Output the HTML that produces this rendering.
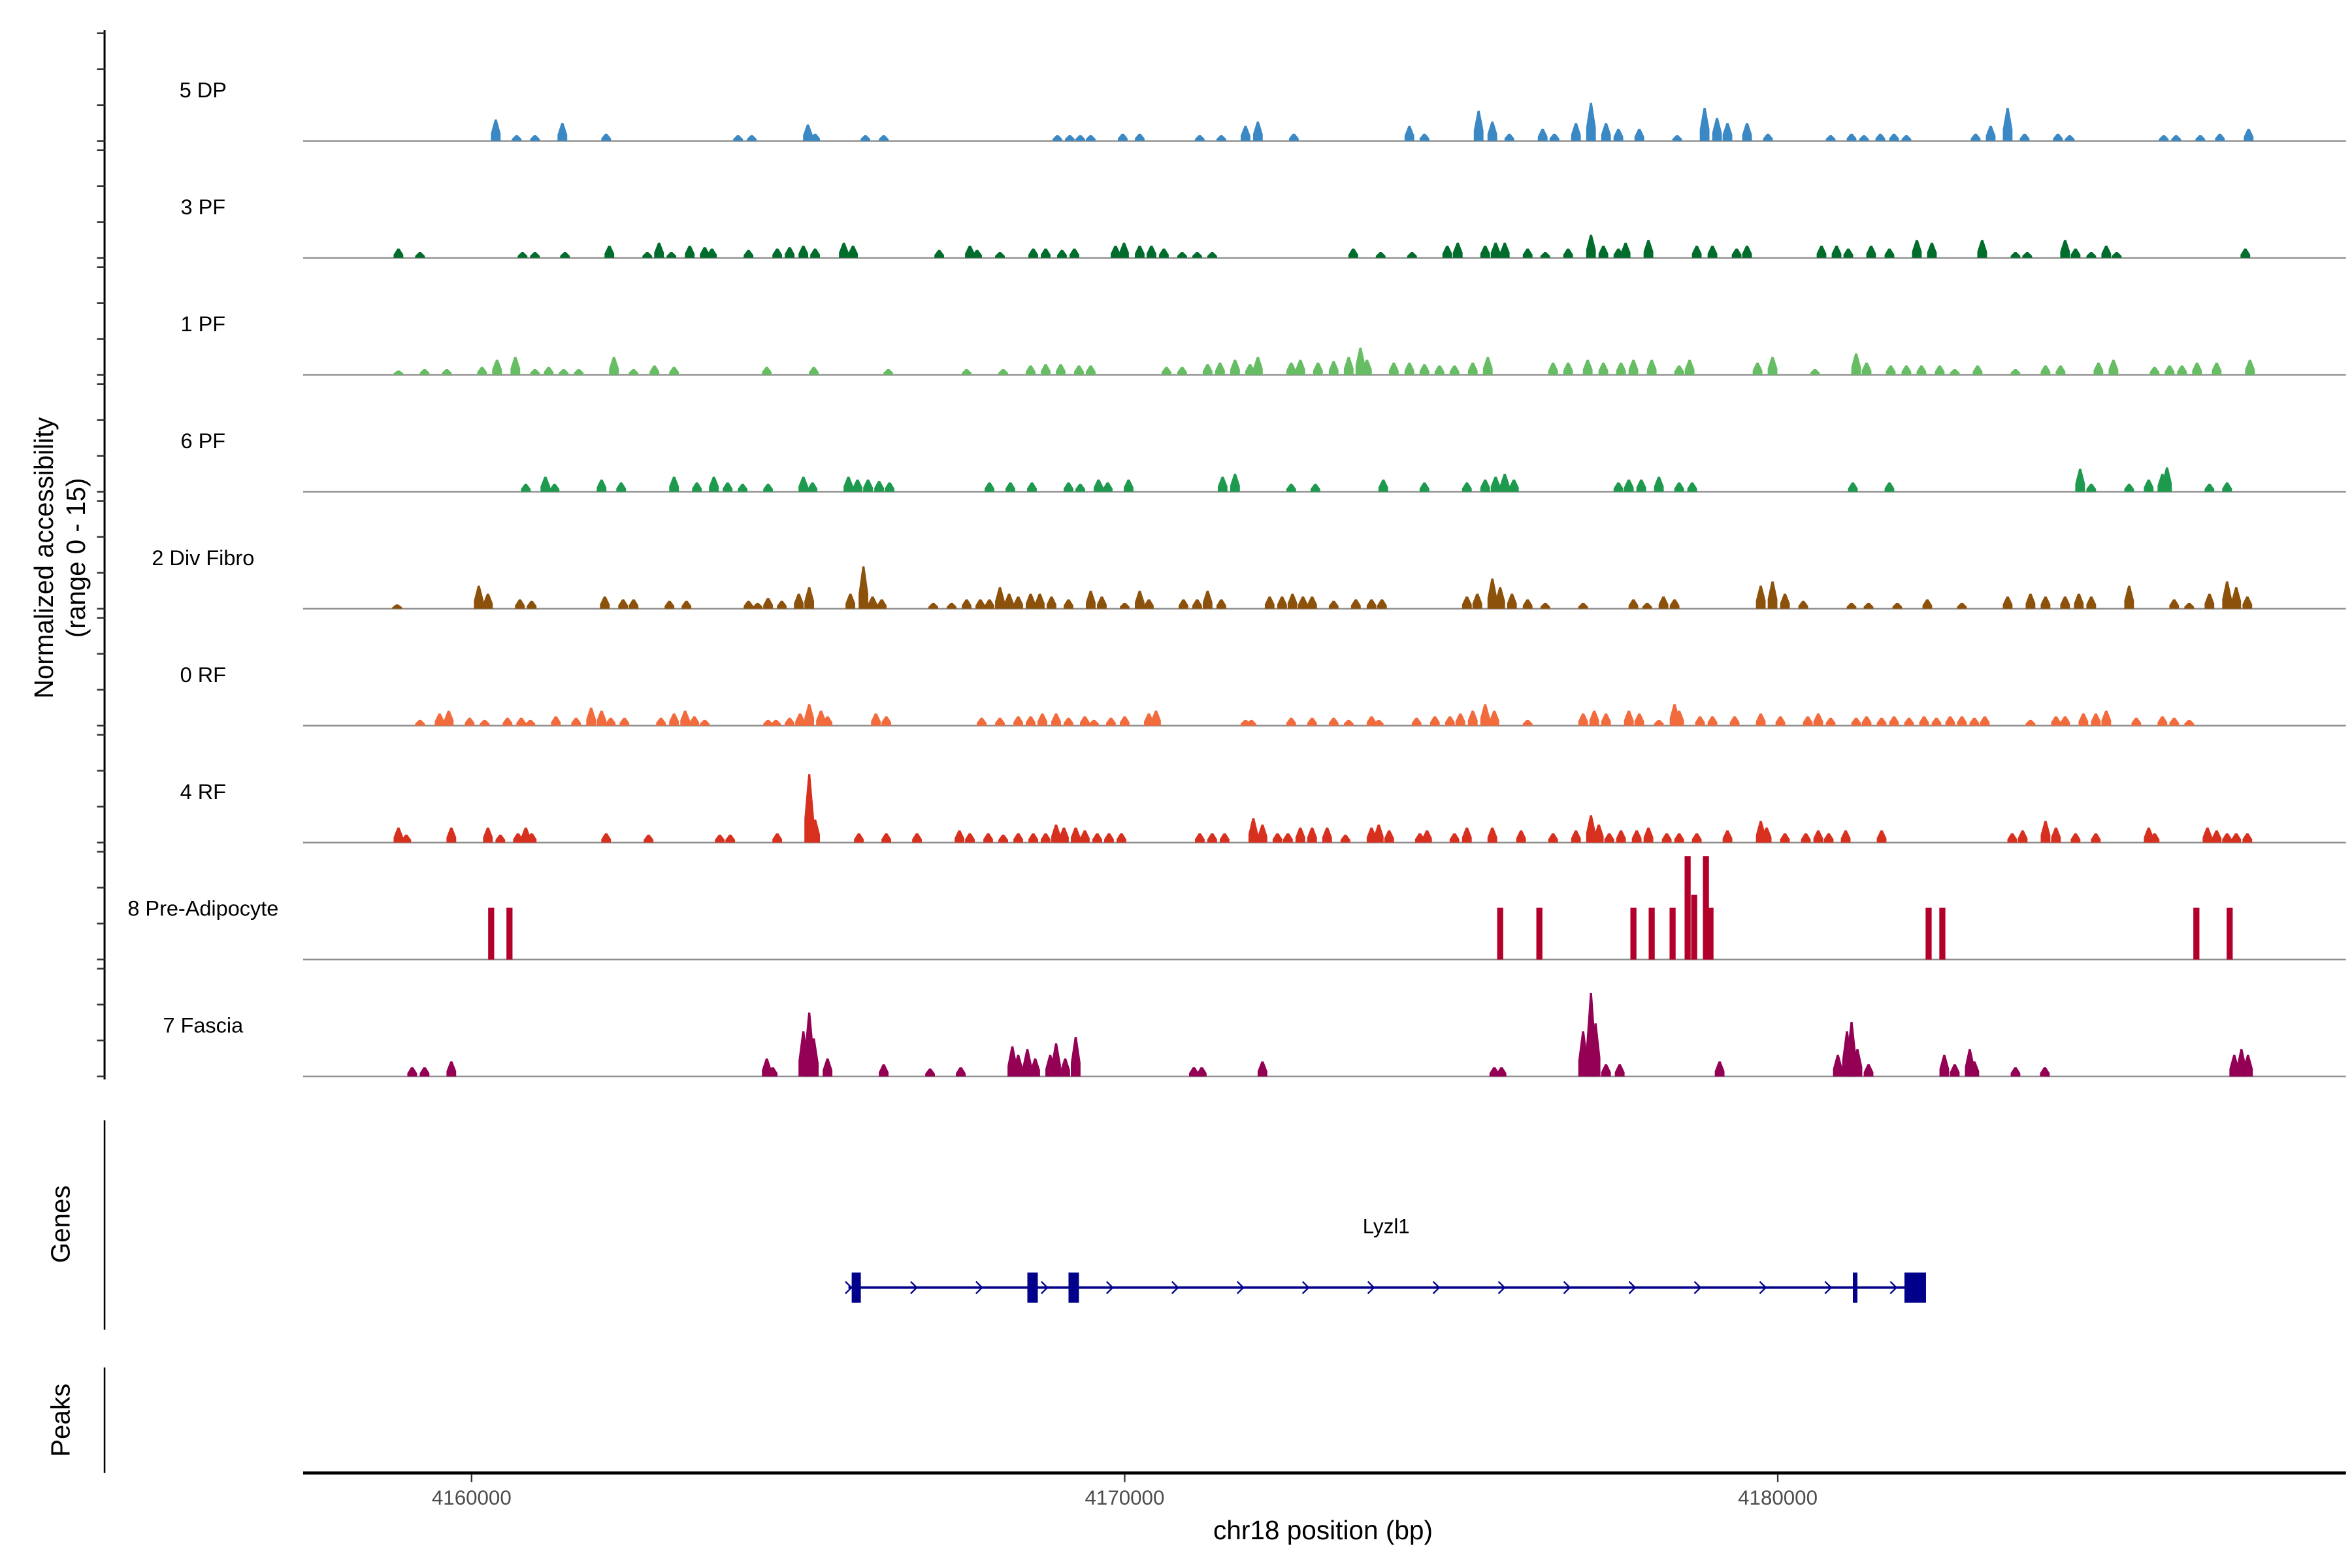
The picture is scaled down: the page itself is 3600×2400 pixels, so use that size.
<!DOCTYPE html>
<html><head><meta charset="utf-8">
<style>
html,body{margin:0;padding:0;background:#fff;}
svg{display:block;font-family:"Liberation Sans",Arial,sans-serif;}
</style></head>
<body>
<svg id="chart" width="3600" height="2400" viewBox="0 0 1552 1040" preserveAspectRatio="none" xmlns="http://www.w3.org/2000/svg">
  <g id="tracks"></g>
  <line x1="69" y1="20" x2="69" y2="716" stroke="#000" stroke-width="1.3"/>
  <g id="yticks"></g>
  <text transform="translate(35,370) rotate(-90)" text-anchor="middle" font-size="17.5">Normalized accessibility</text>
  <text transform="translate(56,370) rotate(-90)" text-anchor="middle" font-size="17.5">(range 0 - 15)</text>
  <line x1="69" y1="743" x2="69" y2="882" stroke="#000" stroke-width="1.1"/>
  <text transform="translate(46,812) rotate(-90)" text-anchor="middle" font-size="17.5">Genes</text>
  <line x1="69" y1="907" x2="69" y2="977" stroke="#000" stroke-width="1.1"/>
  <text transform="translate(46,942) rotate(-90)" text-anchor="middle" font-size="17.5">Peaks</text>
  <g id="gene"></g>
  <line x1="200" y1="977" x2="1548" y2="977" stroke="#000" stroke-width="2"/>
  <g id="xticks"></g>
  <text x="873" y="1021" text-anchor="middle" font-size="17.5">chr18 position (bp)</text>
</svg>
<script>
// ---- data (positions in kb relative to 4,100,000 bp; heights in normalized accessibility) ----
const trackNames = ["5 DP","3 PF","1 PF","6 PF","2 Div Fibro","0 RF","4 RF","8 Pre-Adipocyte","7 Fascia"];
const trackColors = ["#3A88C4","#006D2C","#66BD63","#1E9A4E","#8C510A","#F26B3D","#D7301F","#B2002B","#930054"];
const pos5DP = [60.37,60.69,60.97,61.39,62.06,64.08,64.29,65.15,65.26,66.03,66.31,68.97,69.16,69.32,69.48,69.97,70.23,71.15,71.48,71.85,72.04,72.59,74.36,74.59,75.42,75.63,75.89,76.40,76.58,76.91,77.14,77.37,77.56,77.88,78.46,78.88,79.07,79.23,79.53,79.85,80.81,81.13,81.32,81.57,81.78,81.97,83.03,83.26,83.52,83.78,84.29,84.47,85.91,86.10,86.47,86.77,87.21];
const val5DP = [3.0,0.8,0.8,2.5,1.0,0.8,0.8,2.3,1.0,0.8,0.8,0.8,0.8,0.8,0.8,1.0,1.0,0.8,0.8,2.1,2.7,1.0,2.1,1.0,4.2,2.7,1.0,1.7,1.0,2.5,5.3,2.5,1.7,1.7,0.8,4.6,3.2,2.5,2.5,1.0,0.8,1.0,0.8,1.0,1.0,0.8,1.0,2.1,4.6,1.0,1.0,0.8,0.8,0.8,0.8,1.0,1.7];
const pos3PF = [58.88,59.21,60.78,60.97,61.43,62.11,62.69,62.87,63.06,63.34,63.57,63.68,64.24,64.68,64.87,65.08,65.26,65.70,65.84,67.16,67.63,67.74,68.09,68.60,68.79,69.04,69.23,69.86,69.99,70.23,70.41,70.60,70.88,71.11,71.34,73.50,73.92,74.40,74.94,75.10,75.52,75.68,75.82,76.17,76.44,76.79,77.14,77.33,77.56,77.67,78.02,78.76,79.00,79.37,79.53,80.67,80.90,81.08,81.43,81.71,82.13,82.36,83.13,83.64,83.82,84.40,84.56,84.80,85.03,85.19,87.16];
const val3PF = [1.3,0.8,0.8,0.8,0.8,1.7,0.8,2.1,0.8,1.7,1.5,1.3,1.1,1.3,1.5,1.7,1.3,2.1,1.7,1.1,1.7,1.1,0.8,1.3,1.3,1.1,1.3,1.7,2.1,1.7,1.7,1.3,0.8,0.8,0.8,1.3,0.8,0.8,1.7,2.1,1.7,2.1,2.1,1.3,0.8,1.3,3.2,1.7,1.3,2.1,2.5,1.7,1.7,1.3,1.7,1.7,1.7,1.3,1.7,1.3,2.5,2.1,2.5,0.8,0.8,2.5,1.3,0.8,1.7,0.8,1.3];
const pos1PF = [58.88,59.28,59.62,60.16,60.39,60.67,60.97,61.18,61.41,61.64,62.18,62.48,62.80,63.10,64.52,65.24,66.38,67.58,68.14,68.56,68.79,69.02,69.30,69.48,70.64,70.88,71.27,71.46,71.69,71.92,72.04,72.55,72.69,72.96,73.20,73.43,73.61,73.71,74.12,74.36,74.59,74.82,75.05,75.33,75.56,76.56,76.79,77.09,77.33,77.60,77.79,78.07,78.49,78.65,79.69,79.92,80.57,81.20,81.36,81.73,81.97,82.20,82.48,82.71,83.06,83.64,84.10,84.33,84.91,85.14,85.77,86.00,86.19,86.42,86.72,87.23];
const val1PF = [0.6,0.8,0.8,1.1,2.1,2.5,0.8,1.1,0.8,0.8,2.5,0.8,1.3,1.1,1.1,1.1,0.8,0.8,0.8,1.3,1.5,1.5,1.3,1.3,1.1,1.1,1.5,1.7,2.1,1.5,2.5,1.7,2.1,1.7,1.9,2.5,3.8,2.1,1.7,1.7,1.5,1.3,1.3,1.7,2.5,1.7,1.7,2.1,1.7,1.7,2.1,2.1,1.3,2.1,1.7,2.5,0.8,3.0,1.7,1.3,1.3,1.3,1.3,0.8,1.3,0.8,1.3,1.3,1.7,2.1,1.1,1.3,1.3,1.7,1.7,2.1];
const pos6PF = [60.83,61.13,61.27,61.99,62.29,63.10,63.45,63.71,63.92,64.15,64.54,65.08,65.22,65.77,65.91,66.07,66.24,66.40,67.93,68.25,68.58,69.14,69.32,69.60,69.74,70.06,71.50,71.69,72.55,72.92,73.96,74.59,75.24,75.52,75.68,75.82,75.96,77.56,77.72,77.91,78.18,78.49,78.69,81.15,81.71,84.63,84.80,85.38,85.68,85.89,85.96,86.61,86.88];
const val6PF = [1.1,2.1,1.1,1.7,1.3,2.1,1.3,2.1,1.3,1.1,1.1,2.1,1.3,2.1,1.7,1.7,1.5,1.3,1.3,1.3,1.3,1.3,1.1,1.7,1.3,1.7,2.1,2.5,1.1,1.1,1.7,1.3,1.3,1.7,2.1,2.5,1.7,1.3,1.7,1.7,2.1,1.3,1.3,1.3,1.3,3.2,1.1,1.1,1.7,2.5,3.4,1.1,1.3];
const posDiv = [58.86,60.11,60.25,60.74,60.92,62.04,62.32,62.48,63.03,63.29,64.24,64.38,64.54,64.75,65.01,65.17,65.80,66.00,66.14,66.28,67.07,67.35,67.58,67.79,67.93,68.09,68.23,68.37,68.56,68.70,68.88,69.14,69.48,69.65,70.00,70.23,70.37,70.90,71.11,71.27,71.48,72.22,72.41,72.57,72.73,72.87,73.20,73.54,73.78,73.94,75.24,75.40,75.63,75.75,75.93,76.17,76.44,77.02,77.79,78.00,78.25,78.42,79.74,79.92,80.11,80.39,81.13,81.39,81.83,82.29,82.82,83.52,83.87,84.10,84.40,84.61,84.80,85.38,86.07,86.30,86.61,86.88,87.02,87.19];
const valDiv = [0.6,3.2,2.1,1.3,1.1,1.7,1.3,1.3,1.1,1.1,1.1,0.8,1.5,1.1,2.1,3.0,2.1,5.9,1.7,1.3,0.8,0.8,1.3,1.3,1.3,3.0,2.1,1.7,2.1,2.1,1.7,1.3,2.5,1.7,0.8,2.5,1.3,1.3,1.3,2.5,1.3,1.7,1.7,2.1,1.7,1.7,1.1,1.3,1.3,1.3,1.7,2.1,4.2,3.0,2.1,1.3,0.8,0.8,1.3,0.8,1.7,1.3,3.2,3.8,2.1,1.1,0.8,0.8,0.8,1.3,0.8,1.7,2.1,1.7,1.7,2.1,1.7,3.2,1.3,0.8,2.1,3.8,3.0,1.7];
const pos0RF = [59.21,59.51,59.65,59.97,60.20,60.55,60.76,60.90,61.29,61.60,61.83,61.99,62.13,62.34,62.90,63.10,63.27,63.41,63.57,64.54,64.66,64.87,65.03,65.17,65.35,65.45,66.19,66.35,67.81,68.09,68.37,68.56,68.74,68.95,69.14,69.39,69.53,69.79,70.00,70.37,70.48,71.85,71.94,72.55,72.87,73.20,73.43,73.78,73.89,74.47,74.75,74.98,75.14,75.33,75.52,75.66,76.17,77.02,77.19,77.37,77.72,77.88,78.18,78.42,78.49,78.81,79.00,79.34,79.74,80.04,80.46,80.62,80.81,81.20,81.36,81.59,81.78,82.01,82.24,82.43,82.64,82.82,83.01,83.17,83.87,84.26,84.40,84.68,84.87,85.03,85.49,85.89,86.07,86.30];
const val0RF = [0.8,1.7,2.1,1.1,0.8,1.1,1.1,0.8,1.3,1.1,2.5,2.1,1.1,1.1,1.1,1.7,2.1,1.3,0.8,0.8,0.8,1.1,1.7,3.0,2.1,1.3,1.7,1.3,1.1,1.1,1.3,1.3,1.7,1.7,1.1,1.3,0.8,1.1,1.3,1.7,2.1,0.8,0.8,1.1,1.1,1.1,0.8,1.3,0.8,1.1,1.3,1.3,1.7,2.1,3.0,2.1,0.8,1.7,2.1,1.7,2.1,1.7,0.8,3.0,2.1,1.3,1.3,1.3,1.7,1.3,1.3,1.7,1.1,1.1,1.3,1.1,1.3,1.1,1.3,1.1,1.3,1.3,1.1,1.3,0.8,1.3,1.3,1.7,1.7,2.1,1.1,1.3,1.1,0.8];
const pos4RF = [58.88,59.00,59.69,60.25,60.44,60.71,60.83,60.92,62.06,62.71,63.80,63.96,64.68,65.17,65.26,65.93,66.35,66.82,67.47,67.63,67.91,68.14,68.37,68.60,68.79,68.95,69.07,69.25,69.39,69.58,69.76,69.95,71.15,71.34,71.53,71.97,72.11,72.34,72.50,72.69,72.87,73.10,73.38,73.78,73.89,74.05,74.52,74.63,75.05,75.24,75.63,76.07,76.56,76.91,77.14,77.26,77.42,77.60,77.84,78.02,78.30,78.49,78.76,79.23,79.74,79.83,80.11,80.43,80.62,80.78,81.04,81.59,83.59,83.75,84.10,84.26,84.56,84.87,85.68,85.77,86.58,86.72,86.88,87.02,87.19];
const val4RF = [2.1,1.1,2.1,2.1,1.1,1.3,2.1,1.3,1.3,1.1,1.1,1.1,1.3,9.5,3.2,1.3,1.3,1.3,1.7,1.3,1.3,1.1,1.3,1.3,1.3,2.5,2.1,2.1,1.7,1.3,1.3,1.3,1.3,1.3,1.3,3.4,2.5,1.3,1.3,2.1,2.1,2.1,1.1,2.1,2.5,1.7,1.3,1.7,1.3,2.1,2.1,1.7,1.3,1.7,3.8,2.5,1.3,1.7,1.7,2.1,1.3,1.3,1.3,1.7,3.0,2.1,1.3,1.3,1.7,1.3,1.7,1.7,1.3,1.7,3.0,2.1,1.3,1.3,2.1,1.3,2.1,1.7,1.3,1.3,1.3];
const posPre = [60.30,60.58,75.75,76.35,77.79,78.07,78.39,78.62,78.72,78.90,78.97,82.31,82.52,86.41,86.92];
const valPre = [7.2,7.2,7.2,7.2,7.2,7.2,7.2,14.4,9.0,14.4,7.2,7.2,7.2,7.2,7.2];
const posFas = [59.09,59.28,59.69,64.52,64.61,65.08,65.17,65.24,65.45,66.31,67.02,67.49,68.28,68.37,68.51,68.63,68.86,68.95,69.09,69.25,71.06,71.18,72.11,75.66,75.77,77.02,77.14,77.21,77.37,77.58,79.11,80.92,81.06,81.13,81.22,81.39,82.55,82.71,82.94,83.01,83.64,84.09,86.99,87.10,87.20];
const valFas = [1.3,1.3,2.1,2.5,1.3,6.3,8.9,5.3,2.5,1.7,1.1,1.3,4.2,3.0,3.8,2.5,3.0,4.6,2.5,5.5,1.3,1.3,2.1,1.3,1.3,6.3,11.6,7.4,1.7,1.7,2.1,3.0,6.3,7.6,3.8,1.7,3.0,1.7,3.8,2.1,1.3,1.3,3.0,3.8,3.0];
const exonStarts = [65.82,68.51,69.14,81.15,81.94];
const exonEnds = [65.96,68.67,69.30,81.22,82.27];
const geneStart = 65.77, geneEnd = 82.24, geneName = "Lyzl1";
const xTickValues = [4160000,4170000,4180000];
const yMax = 15;

// ---- scales ----
const NS = "http://www.w3.org/2000/svg";
const BASE_KB = 4100;
const X0 = 200, X1 = 1548, KB0 = 57.42, KB1 = 88.70;
function xKb(kb){ return X0 + (kb - KB0) / (KB1 - KB0) * (X1 - X0); }
function xBp(bp){ return xKb(bp/1000 - BASE_KB); }
const trackH = 71.5, trackStep = 77.56, firstBase = 93.5;
function baseY(i){ return firstBase + i*trackStep; }
function yVal(i, v){ return baseY(i) - v / yMax * trackH; }
function mk(tag, attrs, parent){ const e=document.createElementNS(NS,tag); for(const k in attrs) e.setAttribute(k,attrs[k]); parent.appendChild(e); return e; }

const allPos = [pos5DP,pos3PF,pos1PF,pos6PF,posDiv,pos0RF,pos4RF,posPre,posFas];
const allVal = [val5DP,val3PF,val1PF,val6PF,valDiv,val0RF,val4RF,valPre,valFas];
const gT = document.getElementById('tracks');
const gY = document.getElementById('yticks');
for(let i=0;i<trackNames.length;i++){
  const g = mk('g',{},gT);
  
  
  const lab = mk('text',{x:134,y:baseY(i)-29,'text-anchor':'middle','font-size':'14'},g);
  lab.textContent = trackNames[i];
  
  
  const bl = mk('line',{x1:X0,x2:X1,y1:baseY(i),y2:baseY(i),stroke:'#8c8c8c','stroke-width':'1'},g);
  
  
  const P = allPos[i], V = allVal[i];
  const rect = (i === 7);
  for(let j=0;j<P.length;j++){
    const cx = xKb(P[j]), y0 = baseY(i), yt = yVal(i, V[j]);
    let pts;
    if(rect){ pts = [[cx-2,y0],[cx-2,yt],[cx+2,yt],[cx+2,y0]]; }
    else { const hw = 3.2, tw = 0.7; pts = [[cx-hw,y0],[cx-hw,y0-(y0-yt)*0.35],[cx-tw,yt],[cx+tw,yt],[cx+hw,y0-(y0-yt)*0.35],[cx+hw,y0]]; }
    const p = mk('polygon',{points:pts.map(q=>q[0].toFixed(2)+','+q[1].toFixed(2)).join(' '),fill:trackColors[i]},g);
    
    
  }
  // y ticks: 0, 5, 10, 15
  for(let t=0;t<=yMax;t+=5){
    const yy = yVal(i,t);
    const tk = mk('line',{x1:64,x2:69,y1:yy,y2:yy,stroke:'#333','stroke-width':'1.1'},gY);
    
    
  }
}

// ---- gene ----
const gG = document.getElementById('gene');
const gy = 854;
const gl = mk('line',{x1:xKb(geneStart),x2:xKb(geneEnd),y1:gy,y2:gy,stroke:'#00008B','stroke-width':'1.6'},gG);


for(let a=geneStart; a<=geneEnd-0.3; a+=1.0){
  const ax = xKb(a);
  const ar = mk('polyline',{points:(ax-2)+','+(gy-4)+' '+(ax+2)+','+gy+' '+(ax-2)+','+(gy+4),fill:'none',stroke:'#00008B','stroke-width':'1'},gG);
  
  
}
for(let k=0;k<exonStarts.length;k++){
  const xs = xKb(exonStarts[k]), xe = xKb(exonEnds[k]);
  const ex = mk('rect',{x:xs,y:gy-10,width:Math.max(xe-xs,2),height:20,fill:'#00008B'},gG);
  
  
}
const gn = mk('text',{x:xKb((geneStart+geneEnd)/2),y:818,'text-anchor':'middle','font-size':'13.5'},gG);
gn.textContent = geneName;



// ---- x axis ----
const gX = document.getElementById('xticks');
for(const v of xTickValues){
  const xx = xBp(v);
  const tl = mk('line',{x1:xx,x2:xx,y1:978,y2:983,stroke:'#333','stroke-width':'1'},gX);
  
  
  const tt = mk('text',{x:xx,y:998,'text-anchor':'middle','font-size':'13.5',fill:'#4D4D4D'},gX);
  tt.textContent = String(v);
  
  
}
</script>
</body></html>
